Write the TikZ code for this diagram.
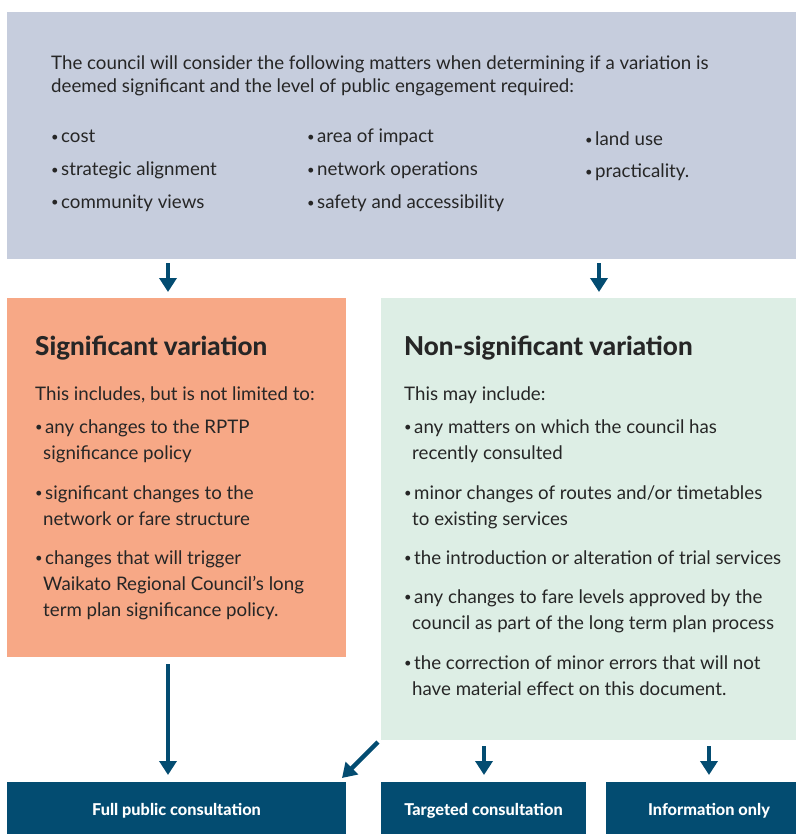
\documentclass[tikz,border=0pt]{standalone}
\usepackage{fontspec}
\setmainfont{Lato}
\newfontfamily\heavyfont{Lato Heavy}
\usetikzlibrary{arrows.meta,calc}

\definecolor{matterfill}{HTML}{C6CDDD}
\definecolor{sigfill}{HTML}{F7A886}
\definecolor{nonsigfill}{HTML}{DDEEE5}
\definecolor{navy}{HTML}{034C71}
\definecolor{ink}{HTML}{262626}

% small bullet followed by its gap
\newcommand\bdot{\makebox[10pt][l]{\raisebox{1.3pt}{\fontsize{13}{13}\selectfont\textbullet}}}
% indent of continuation lines
\newcommand\cont{\hspace{8pt}}
% lines set one below the other, baseline at the first line
\newcommand\lines[1]{\begin{tabular}[t]{@{}l@{}}#1\end{tabular}}

\tikzset{
  panel/.style={draw=none, inner sep=0pt, outer sep=0pt, anchor=north west},
  body/.style={inner sep=0pt, anchor=base west, text=ink,
    font=\fontsize{18.7}{26}\selectfont},
  intro/.style={body, font=\fontsize{18.7}{23}\selectfont},
  head/.style={inner sep=0pt, anchor=base west, text=ink,
    font=\heavyfont\fontsize{26}{30}\selectfont},
  outcome/.style={fill=navy, text=white, inner sep=0pt, outer sep=0pt,
    anchor=north west, minimum height=56pt, text height=11pt, text depth=0pt,
    font=\heavyfont\fontsize{16.3}{19}\selectfont},
  flow/.style={draw=navy, line width=4.5pt,
    -{Triangle[width=17pt,length=14pt]}},
}

\begin{document}
\begin{tikzpicture}[x=1pt, y=-1pt]
\useasboundingbox (0,0) rectangle (795,834);

% panels
\node[panel, fill=matterfill, minimum width=805pt, minimum height=247pt] (matters) at (7,12) {};
\node[panel, fill=sigfill, minimum width=339pt, minimum height=359pt] (sig) at (7,298) {};
\node[panel, fill=nonsigfill, minimum width=431pt, minimum height=442pt] (nonsig) at (381,298) {};

% outcomes
\node[outcome, minimum width=339pt] (full) at (7,782) {Full public consultation};
\node[outcome, minimum width=205pt] (targeted) at (381,782) {Targeted consultation};
\node[outcome, minimum width=206pt] (info) at (606,782) {Information only};

% matters considered
\node[intro] (introtext) at (51,70) {\lines{The council will consider the following matters when determining if a variation is\\
  deemed significant and the level of public engagement required:}};
\node[body] (m1) at (51,143) {\bdot cost};
\node[body] (m2) at (51,176) {\bdot strategic alignment};
\node[body] (m3) at (51,208) {\bdot community views};
\node[body] (m4) at (307,143) {\bdot area of impact};
\node[body] (m5) at (307,176) {\bdot network operations};
\node[body] (m6) at (307,209) {\bdot safety and accessibility};
\node[body] (m7) at (585,146) {\bdot land use};
\node[body] (m8) at (585,178) {\bdot practicality.};

% significant variation
\node[head] (sighead) at (35,355) {Significant variation};
\node[body] (siglead) at (35,400) {This includes, but is not limited to:};
\node[body] (s1) at (35,433) {\lines{\bdot any changes to the RPTP\\ \cont significance policy}};
\node[body] (s2) at (35,499) {\lines{\bdot significant changes to the\\ \cont network or fare structure}};
\node[body] (s3) at (35,564) {\lines{\bdot changes that will trigger\\ \cont Waikato Regional Council’s long\\ \cont term plan significance policy.}};

% non-significant variation
\node[head] (nshead) at (404,355) {Non-significant variation};
\node[body] (nslead) at (404,400) {This may include:};
\node[body] (n1) at (404,433) {\lines{\bdot any matters on which the council has\\ \cont recently consulted}};
\node[body] (n2) at (404,499) {\lines{\bdot minor changes of routes and/or timetables\\ \cont to existing services}};
\node[body] (n3) at (404,564) {\bdot the introduction or alteration of trial services};
\node[body] (n4) at (404,603) {\lines{\bdot any changes to fare levels approved by the\\ \cont council as part of the long term plan process}};
\node[body] (n5) at (404,669) {\lines{\bdot the correction of minor errors that will not\\ \cont have material effect on this document.}};

% arrow columns
\coordinate (xa) at (168,0);
\coordinate (xb) at (599,0);
\coordinate (xc) at (484,0);
\coordinate (xd) at (709,0);

% connectors
\draw[flow, shorten <=4pt, shorten >=6pt] (matters.south -| xa) -- (sig.north -| xa);
\draw[flow, shorten <=4pt, shorten >=6pt] (matters.south -| xb) -- (nonsig.north -| xb);
\draw[flow, shorten <=7pt, shorten >=7pt] (sig.south -| xa) -- (full.north -| xa);
\draw[flow] ($(nonsig.south west)+(-3,2)$) -- ($(full.north east)+(-4,-4)$);
\draw[flow, shorten <=6pt, shorten >=7pt] (nonsig.south -| xc) -- (targeted.north -| xc);
\draw[flow, shorten <=6pt, shorten >=7pt] (nonsig.south -| xd) -- (info.north -| xd);
\end{tikzpicture}
\end{document}
